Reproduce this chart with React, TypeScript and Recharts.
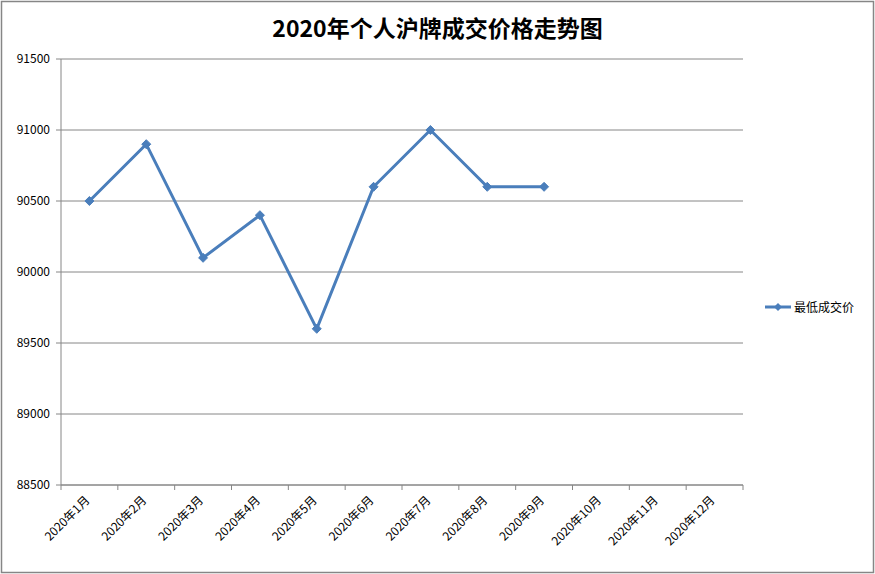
import React from "react";
import { LineChart, Line, XAxis, YAxis, CartesianGrid } from "recharts";

const categories = [
  "2020年1月", "2020年2月", "2020年3月", "2020年4月", "2020年5月", "2020年6月",
  "2020年7月", "2020年8月", "2020年9月", "2020年10月", "2020年11月", "2020年12月",
];
const lowestPrice: (number | null)[] = [90500, 90900, 90100, 90400, 89600, 90600, 91000, 90600, 90600, null, null, null];
const yTicks = [88500, 89000, 89500, 90000, 90500, 91000, 91500];
const seriesName = "最低成交价";
const title = "2020年个人沪牌成交价格走势图";

const data = categories.map((c, i) => ({ month: c, value: lowestPrice[i] }));

const W = 875;
const H = 574;
const PLOT_LEFT = 61;
const PLOT_RIGHT = 743;
const PLOT_TOP = 59;
const PLOT_BOTTOM = 485;
const BAND = (PLOT_RIGHT - PLOT_LEFT) / categories.length;
const LINE_COLOR = "#4A7EBB";
const AXIS_COLOR = "#868686";
const FONT = "'Noto Sans CJK SC', 'Noto Sans', sans-serif";

const XTick = (props: any) => {
  const { x, payload, index } = props;
  const lx = x - BAND / 2;
  const tx = x + 1;
  const ty = PLOT_BOTTOM + 16;
  return (
    <g>
      <line x1={lx} y1={PLOT_BOTTOM} x2={lx} y2={PLOT_BOTTOM + 5} stroke={AXIS_COLOR} strokeWidth={1} />
      {index === categories.length - 1 && (
        <line x1={x + BAND / 2} y1={PLOT_BOTTOM} x2={x + BAND / 2} y2={PLOT_BOTTOM + 5} stroke={AXIS_COLOR} strokeWidth={1} />
      )}
      <text
        x={tx}
        y={ty}
        textAnchor="end"
        fontSize={12}
        fontFamily={FONT}
        fill="#000"
        transform={`rotate(-45, ${tx}, ${ty})`}
      >
        {payload.value}
      </text>
    </g>
  );
};

const Diamond = (props: any) => {
  const { cx, cy, index } = props;
  if (cx == null || cy == null || props.value == null) return <g key={index} />;
  const r = 4.5;
  return (
    <path
      key={index}
      d={`M${cx},${cy - r} L${cx + r},${cy} L${cx},${cy + r} L${cx - r},${cy} Z`}
      fill={LINE_COLOR}
      stroke={LINE_COLOR}
      strokeWidth={1}
    />
  );
};

export default function App() {
  return (
    <div style={{ position: "absolute", left: 0, top: 0, width: W, height: H, background: "#fff" }}>
      <svg width={W} height={H} style={{ position: "absolute", left: 0, top: 0 }}>
        <rect x={1.5} y={1.5} width={872} height={571} fill="#fff" stroke={AXIS_COLOR} strokeWidth={1.5} />
      </svg>
      <div
        style={{
          position: "absolute",
          left: 0,
          top: 11,
          width: W,
          textAlign: "center",
          fontFamily: FONT,
          fontWeight: 700,
          fontSize: 23,
          color: "#000",
          lineHeight: "32px",
        }}
      >
        {title}
      </div>
      <div style={{ position: "absolute", left: 0, top: 0 }}>
        <LineChart
          width={W}
          height={H}
          data={data}
          margin={{ top: PLOT_TOP, left: 0, right: W - PLOT_RIGHT, bottom: 0 }}
        >
          <CartesianGrid vertical={false} stroke={AXIS_COLOR} strokeWidth={1} />
          <XAxis
            dataKey="month"
            scale="band"
            height={H - PLOT_BOTTOM}
            interval={0}
            tickLine={false}
            axisLine={{ stroke: AXIS_COLOR, strokeWidth: 1 }}
            tick={<XTick />}
          />
          <YAxis
            width={PLOT_LEFT}
            domain={[88500, 91500]}
            ticks={yTicks}
            interval={0}
            tickSize={5}
            tickMargin={6}
            tickLine={{ stroke: AXIS_COLOR }}
            axisLine={{ stroke: AXIS_COLOR, strokeWidth: 1 }}
            tick={{ fontSize: 12, fontFamily: FONT, fill: "#000" }}
          />
          <Line
            type="linear"
            dataKey="value"
            name={seriesName}
            stroke={LINE_COLOR}
            strokeWidth={3}
            dot={<Diamond />}
            activeDot={false}
            connectNulls={false}
            isAnimationActive={false}
          />
        </LineChart>
      </div>
      <div
        style={{
          position: "absolute",
          left: 764,
          top: 298,
          display: "flex",
          alignItems: "center",
          fontFamily: FONT,
          fontSize: 12,
          color: "#000",
          lineHeight: "18px",
        }}
      >
        <svg width={28} height={10} style={{ marginRight: 2 }}>
          <line x1={1} y1={5} x2={27} y2={5} stroke={LINE_COLOR} strokeWidth={3} />
          <path d="M14,1 L18,5 L14,9 L10,5 Z" fill={LINE_COLOR} />
        </svg>
        <span>{seriesName}</span>
      </div>
    </div>
  );
}
